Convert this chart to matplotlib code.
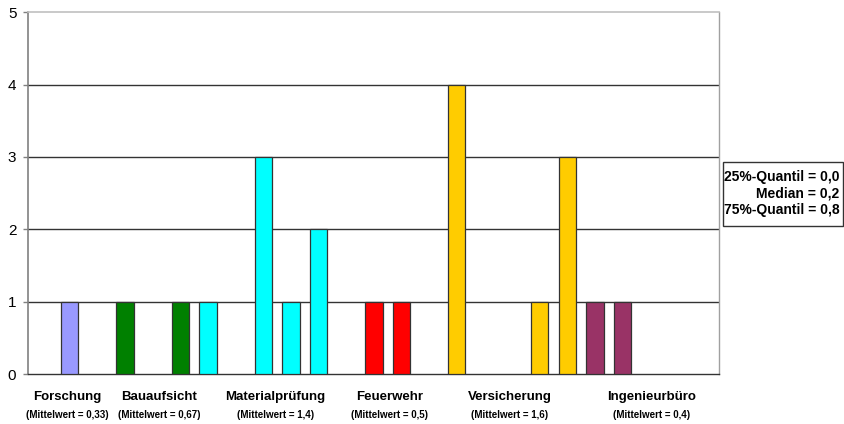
import matplotlib
matplotlib.use("Agg")
import matplotlib.pyplot as plt
from matplotlib.patches import Rectangle
import matplotlib.transforms as mtransforms

plt.rcParams['font.family'] = ['Liberation Sans', 'DejaVu Sans']

# One bar slot per answer; groups of slots belong to one institution type
groups = ["Forschung", "Bauaufsicht", "Materialprüfung", "Feuerwehr",
          "Versicherung", "Ingenieurbüro"]
group_values = [
    [0, 1, 0],
    [1, 0, 1],
    [1, 0, 3, 1, 2],
    [0, 1, 1, 0],
    [4, 0, 0, 1, 3],
    [1, 1, 0, 0, 0],
]
group_colors = ["#9999FF", "#008000", "#00FFFF", "#FF0000", "#FFCC00", "#993366"]
mean_labels = ["(Mittelwert = 0,33)", "(Mittelwert = 0,67)", "(Mittelwert = 1,4)",
               "(Mittelwert = 0,5)", "(Mittelwert = 1,6)", "(Mittelwert = 0,4)"]
# horizontal position of each group caption, in slot units
label_x = [0.90, 4.24, 8.43, 12.57, 16.92, 22.05]
stats_text = ["25%-Quantil = 0,0", "Median = 0,2", "75%-Quantil = 0,8"]
y_ticks = [0, 1, 2, 3, 4, 5]

values, colors = [], []
for vals, col in zip(group_values, group_colors):
    values.extend(vals)
    colors.extend([col] * len(vals))
positions = list(range(len(values)))

fig = plt.figure(figsize=(8.44, 4.24), dpi=100)
ax = fig.add_axes([28.3 / 844, 50 / 424, (719.3 - 28.3) / 844, (374 - 12.3) / 424])

for y in y_ticks[1:-1]:
    ax.axhline(y, color="#333333", lw=1.0, zorder=1)

# empty slots stay blank
shown = [(p, v, c) for p, v, c in zip(positions, values, colors) if v > 0]
ax.bar([s[0] for s in shown], [s[1] for s in shown], width=0.63,
       color=[s[2] for s in shown], edgecolor="#333333", linewidth=0.9, zorder=3)

ax.set_xlim(-0.5, len(values) - 0.5)
ax.set_ylim(0, 5)
ax.set_yticks(y_ticks)
ax.set_yticklabels([str(t) for t in y_ticks], fontsize=11)
ax.set_xticks([])
ax.tick_params(axis="y", length=3.6, width=1, color="#808080", pad=5)

ax.spines["left"].set_color("#808080")
ax.spines["left"].set_linewidth(1.2)
ax.spines["bottom"].set_color("#333333")
ax.spines["bottom"].set_linewidth(1.0)
ax.spines["top"].set_color("#C0C0C0")
ax.spines["top"].set_linewidth(1.2)
ax.spines["right"].set_color("#A0A0A0")
ax.spines["right"].set_linewidth(1.0)

trans = mtransforms.blended_transform_factory(ax.transData, fig.transFigure)
for x, name, mean in zip(label_x, groups, mean_labels):
    ax.text(x, 1 - 396.7 / 424, name, transform=trans, ha="center", va="center",
            fontsize=9.5, fontweight="bold")
    ax.text(x, 1 - 415 / 424, mean, transform=trans, ha="center", va="center",
            fontsize=7, fontweight="bold")

# statistics box on the right
box_l, box_r, box_t, box_b = 722.7, 842.5, 161.7, 226.0
fig.patches.append(Rectangle((box_l / 844, 1 - box_b / 424),
                             (box_r - box_l) / 844, (box_b - box_t) / 424,
                             transform=fig.transFigure, facecolor="white",
                             edgecolor="#333333", linewidth=1.0))
for i, line in enumerate(stats_text):
    fig.text((box_r - 3) / 844, 1 - (176.7 + 16.7 * i) / 424, line,
             ha="right", va="center", fontsize=10, fontweight="bold")

fig.savefig("out.png", dpi=100)
